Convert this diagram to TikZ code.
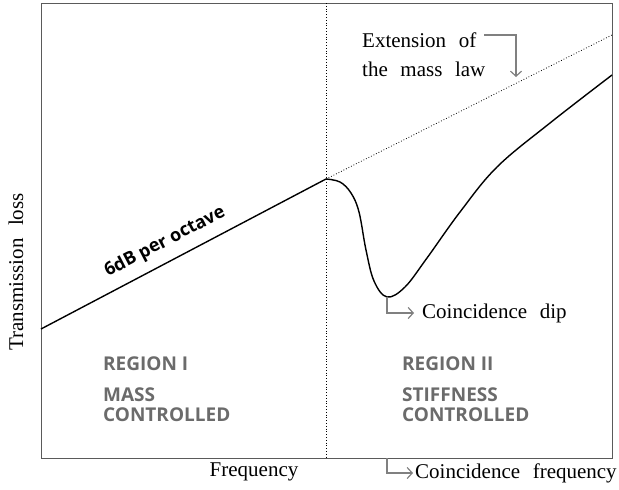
\documentclass[tikz,border=0pt]{standalone}
\usepackage{fontspec}
\setmainfont{Liberation Serif}
\newfontfamily\labelsans{Open Sans}
\usetikzlibrary{arrows.meta}
\definecolor{framegray}{HTML}{5A5A5A}
\definecolor{labelgray}{HTML}{6B6B6B}
\definecolor{arrowgray}{HTML}{808080}
\newcommand\myserifsetup{\fontsize{21}{29}\selectfont\spaceskip=0.6em plus 0.1em\relax}
\begin{document}
\begin{tikzpicture}[x=1pt,y=-1pt,
  serif/.style={font=\myserifsetup, inner sep=0pt},
  region/.style={font=\labelsans\bfseries\fontsize{19}{21}\selectfont, text=labelgray, inner sep=0pt, anchor=west},
  pointer/.style={draw=arrowgray, line width=1.2pt, -{Straight Barb[length=5pt,width=11pt]}},
  guide/.style={dotted, line width=0.8pt},
  curve/.style={line width=1.4pt, line join=round}]
\useasboundingbox (0,0) rectangle (619,490);
\node[draw=framegray, line width=1.2pt, minimum width=571pt, minimum height=455pt, inner sep=0pt, anchor=north west] (frame) at (41,3) {};
% lines
\coordinate (start) at (41,329);
\coordinate (knee) at (326,179);
\coordinate (extend) at (612,35);
\coordinate (vtop) at (326,3);
\coordinate (vbot) at (326,458);
\draw[curve] (start) -- (knee);
\draw[guide] (knee) -- (extend);
\draw[guide] (vtop) -- (vbot);
\draw[curve] plot[smooth, tension=0.6] coordinates {(326,179) (340,182) (351,193) (359,212) (366,250) (374,281) (387,297) (405,287) (427,258) (460,212) (497,167) (550,123) (612,75)};
% labels
\node[font=\labelsans\bfseries\fontsize{18}{20}\selectfont, rotate=27.5, inner sep=0pt] (slope) at (165,242) {6dB per octave};
\node[serif] (xlabel) at (254,472) {Frequency};
\node[serif, rotate=90] (ylabel) at (16,272) {Transmission loss};
\node[serif, anchor=north west, align=left] (ext) at (362,33) {Extension of\\the mass law};
\coordinate (extstart) at (484,35);
\coordinate (extpoint) at (516,77);
\draw[pointer] (extstart) -| (extpoint);
\coordinate (dip) at (387,297);
\node[serif, anchor=west] (diptext) at (422,313) {Coincidence dip};
\draw[pointer, shorten >=8pt] (dip) |- (diptext.west);
\coordinate (cf) at (387,458);
\node[serif, anchor=west] (cftext) at (415,473) {Coincidence frequency};
\draw[pointer, shorten >=2pt] (cf) |- (cftext.west);
% regions
\node[region] (r1) at (103,364) {REGION I};
\node[region] (r1a) at (103,395) {MASS};
\node[region] (r1b) at (103,415) {CONTROLLED};
\node[region] (r2) at (402,364) {REGION II};
\node[region] (r2a) at (402,395) {STIFFNESS};
\node[region] (r2b) at (402,415) {CONTROLLED};
\end{tikzpicture}
\end{document}
